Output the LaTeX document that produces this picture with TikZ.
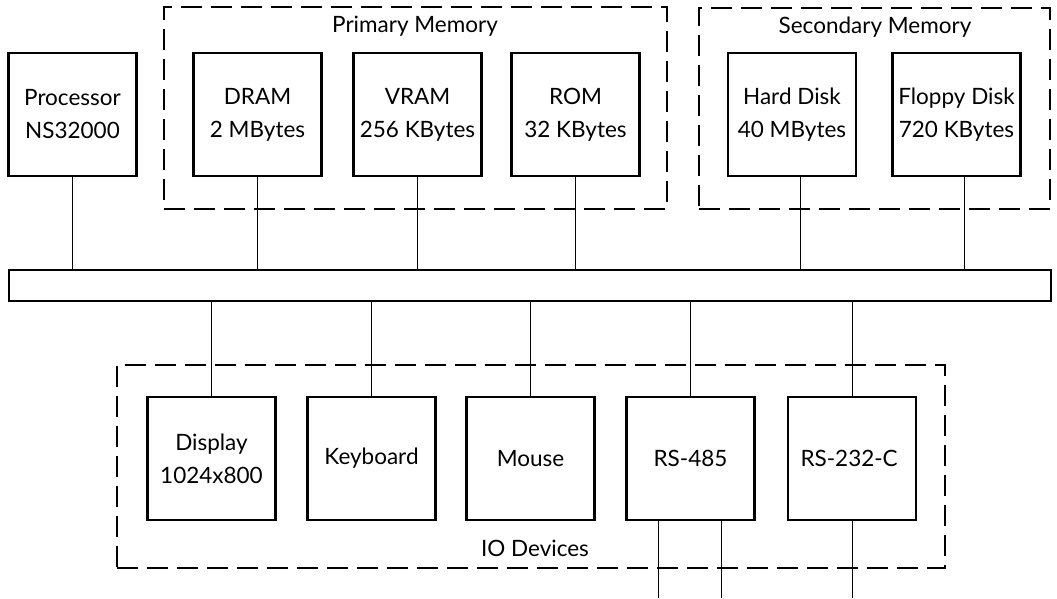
\documentclass[tikz,border=0pt]{standalone}
\usepackage{fontspec}
\setmainfont{Lato}
\usepackage{tikz}
\usetikzlibrary{positioning}
\tikzstyle{basefont}=[font=\fontsize{22.5}{33}\selectfont]
\tikzstyle{unit}=[basefont, draw, line width=2.2pt, align=center, minimum width=128pt, minimum height=123pt, inner sep=1pt]
\tikzstyle{group}=[draw, line width=1.2pt, dash pattern=on 21pt off 9pt]
\tikzstyle{bus}=[draw, line width=2.2pt, minimum width=1042pt, minimum height=31pt]
\tikzstyle{caption}=[basefont]
\tikzstyle{wire}=[line width=1pt]

\begin{document}
\begin{tikzpicture}[x=1pt, y=-1pt]
        \useasboundingbox (0,0) rectangle (1057,598);

        % Dashed groups
        \node[group, minimum width=503pt, minimum height=202pt] (primary) at (415.5,108) {};
        \node[group, minimum width=351pt, minimum height=201pt] (secondary) at (874.5,108.5) {};
        \node[group, minimum width=828pt, minimum height=203pt] (io) at (531,466.5) {};
        \node[caption] (primary-label) at (415,26) {Primary Memory};
        \node[caption] (secondary-label) at (875,27) {Secondary Memory};
        \node[caption] (io-label) at (535,548) {IO Devices};

        % System bus
        \node[bus] (bus) at (530,285.5) {};

        % Processor and memories, wired down to the bus
        \foreach \name/\x/\dx/\content in {
            cpu/72.5/0/Processor\\NS32000,
            dram/257.5/0/DRAM\\2 MBytes,
            vram/417.5/0/VRAM\\256 KBytes,
            rom/575.5/0/ROM\\32 KBytes,
            disk/792/8/Hard Disk\\40 MBytes,
            floppy/956.5/7.5/Floppy Disk\\720 KBytes
        }{
            \node[unit] (\name) at (\x,114.5) {\content};
            \draw[wire] ([xshift=\dx pt]\name.south) -- ([xshift=\dx pt]\name.south |- bus.north);
        }

        % IO devices, wired up to the bus
        \foreach \name/\x/\content in {
            display/211.5/Display\\1024x800,
            keyboard/371.5/Keyboard,
            mouse/530.5/Mouse,
            rs485/690.5/RS-485,
            rs232/852/RS-232-C
        }{
            \node[unit] (\name) at (\x,458.5) {\content};
            \draw[wire] (\name.north) -- (\name.north |- bus.south);
        }

        % Outside lines of the serial ports
        \coordinate (port1) at (658,598);
        \coordinate (port2) at (721,598);
        \coordinate (port3) at (852,598);
        \foreach \i/\dev in {1/rs485, 2/rs485, 3/rs232}{
            \draw[wire] (port\i |- \dev.south) -- (port\i);
        }
\end{tikzpicture}
\end{document}
